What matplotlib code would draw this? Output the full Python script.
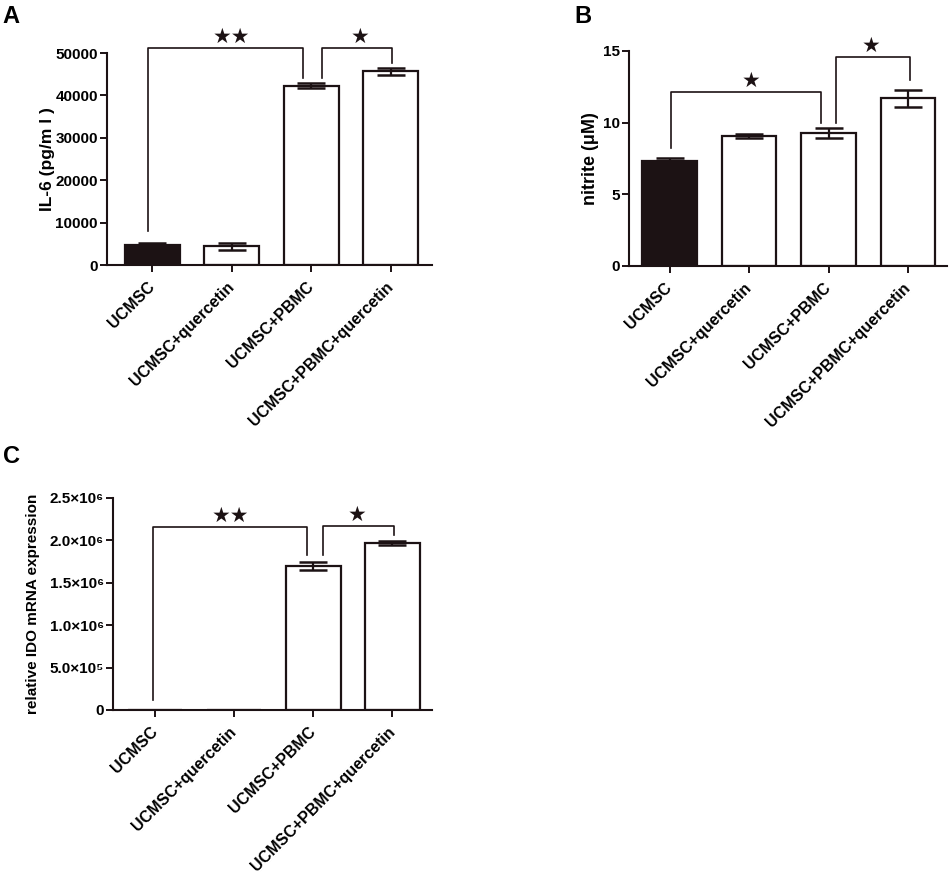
import numpy as np
import matplotlib
matplotlib.use("Agg")
import matplotlib.pyplot as plt

plt.rcParams['font.family'] = ['Liberation Sans', 'DejaVu Sans']
plt.rcParams['font.weight'] = 'bold'

groups = ["UCMSC", "UCMSC+quercetin", "UCMSC+PBMC", "UCMSC+PBMC+quercetin"]

# panel A - IL-6
il6_mean = [4700, 4450, 42300, 45700]
il6_err = [450, 850, 600, 850]
il6_ticks = [0, 10000, 20000, 30000, 40000, 50000]

# panel B - nitrite
nitrite_mean = [7.35, 9.05, 9.25, 11.7]
nitrite_err = [0.2, 0.15, 0.35, 0.6]
nitrite_ticks = [0, 5, 10, 15]

# panel C - IDO
ido_mean = [0, 0, 1.70e6, 1.97e6]
ido_err = [0, 0, 0.05e6, 0.02e6]
ido_ticks = [0, 5e5, 1e6, 1.5e6, 2e6, 2.5e6]
ido_ticklabels = ["0", "5.0×10⁵", "1.0×10⁶", "1.5×10⁶", "2.0×10⁶", "2.5×10⁶"]

# brackets: (x left, x right, y top, left bottom, right bottom, stars, star x)
il6_brackets = [(-0.06, 1.9, 51200, 8000, 44100, "★★", 1.0),
                (2.14, 3.02, 51200, 44100, 47600, "★", 2.62)]
nitrite_brackets = [(0.02, 1.9, 12.1, 8.2, 10.0, "★", 1.03),
                    (2.1, 3.02, 14.6, 10.0, 13.0, "★", 2.54)]
ido_brackets = [(-0.02, 1.92, 2.16e6, 0.12e6, 1.83e6, "★★", 0.95),
                (2.12, 3.02, 2.17e6, 1.83e6, 2.06e6, "★", 2.55)]

dark = "#1c1214"


def draw_panel(ax, means, errs, ticks, ylabel, ylabel_size, brackets, xlim, ytop, label_x):
    x = np.arange(len(means))
    colors = [dark, "white", "white", "white"]
    ax.bar(x, means, width=0.69, color=colors, edgecolor=dark, linewidth=1.6, zorder=2)
    ax.errorbar(x, means, yerr=errs, fmt="none", ecolor=dark, elinewidth=1.6,
                capsize=10, capthick=1.8, zorder=3)
    ax.set_xlim(*xlim)
    ax.set_ylim(0, ytop)
    ax.set_yticks(ticks)
    ax.set_xticks(x)
    ax.set_xticklabels(groups, rotation=45, ha="right", va="center",
                       rotation_mode="anchor", fontsize=11.5, fontweight="bold")
    ax.set_ylabel(ylabel, fontsize=ylabel_size, fontweight="bold")
    ax.yaxis.set_label_coords(label_x, 0.5)
    for s in ["top", "right"]:
        ax.spines[s].set_visible(False)
    for s in ["left", "bottom"]:
        ax.spines[s].set_linewidth(1.5)
        ax.spines[s].set_color(dark)
    ax.tick_params(axis="y", length=5, width=1.4, labelsize=11, color=dark, pad=1.5)
    ax.tick_params(axis="x", length=5, width=1.4, labelsize=11.5, color=dark, pad=9)
    for lab in ax.get_yticklabels():
        lab.set_fontweight("bold")
    for xl, xr, top, lb, rb, stars, sx in brackets:
        ax.plot([xl, xl, xr, xr], [lb, top, top, rb], color=dark, lw=1.2,
                clip_on=False, zorder=4)
        ax.annotate(stars, (sx, top), xytext=(0, 8), textcoords="offset points",
                    ha="center", va="center", fontsize=15, family="DejaVu Sans",
                    color=dark, annotation_clip=False)


fig = plt.figure(figsize=(9.51, 8.72), dpi=100)
axA = fig.add_axes([0.1125, 0.6961, 0.3418, 0.2431])
axB = fig.add_axes([0.6614, 0.6950, 0.3344, 0.2466])
axC = fig.add_axes([0.1188, 0.1858, 0.3354, 0.2431])

draw_panel(axA, il6_mean, il6_err, il6_ticks, "IL-6 (pg/m l )", 12.5, il6_brackets,
           (-0.57, 3.52), 50000, -0.16)
draw_panel(axB, nitrite_mean, nitrite_err, nitrite_ticks, "nitrite (μM)", 13,
           nitrite_brackets, (-0.51, 3.49), 15, -0.094)
draw_panel(axC, ido_mean, ido_err, ido_ticks, "relative IDO mRNA expression", 11,
           ido_brackets, (-0.53, 3.5), 2.5e6, -0.229)
axC.set_yticklabels(ido_ticklabels, fontsize=11, fontweight="bold")

fig.text(0.011, 0.981, "A", fontsize=17, fontweight="bold", ha="center", va="center")
fig.text(0.613, 0.981, "B", fontsize=17, fontweight="bold", ha="center", va="center")
fig.text(0.012, 0.477, "C", fontsize=17, fontweight="bold", ha="center", va="center")

fig.savefig("out.png", dpi=100)
